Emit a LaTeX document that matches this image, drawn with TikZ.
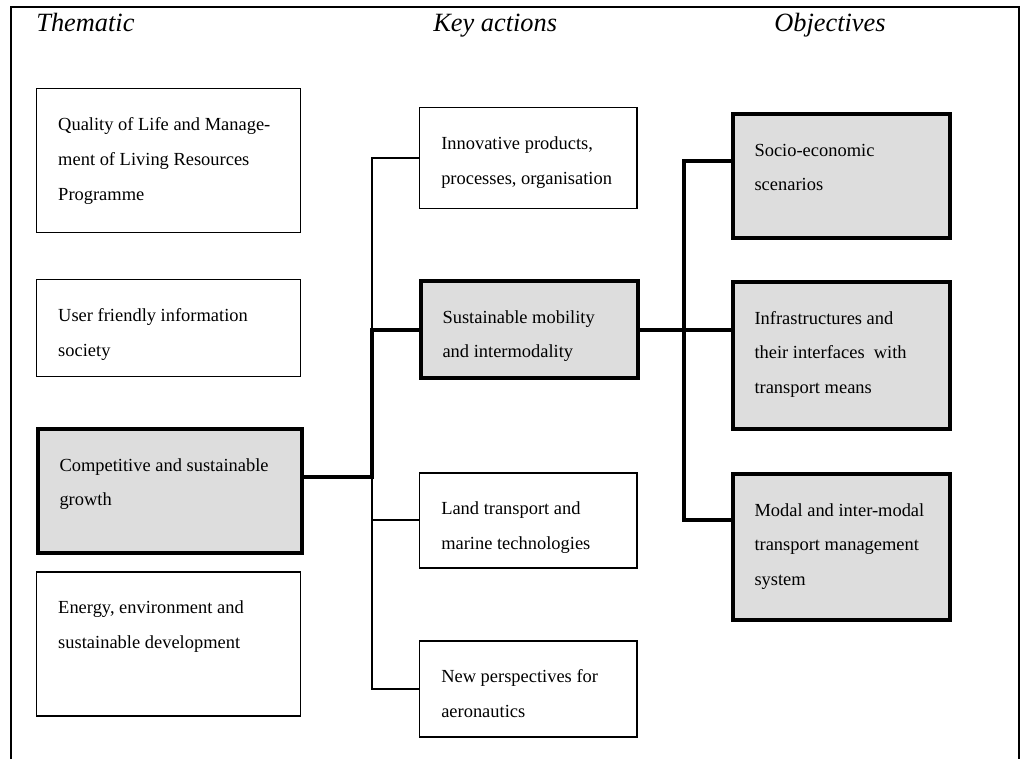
\documentclass[tikz,border=0pt]{standalone}
\usepackage{fontspec}
\setmainfont{Liberation Serif}
\usepackage{xcolor}
\usepackage{tikz}
\usetikzlibrary{positioning,calc}
\definecolor{keygray}{HTML}{DDDDDD}

% text of a box: fixed width and height, first baseline at a fixed depth
\newcommand{\cell}[3]{\parbox[c][#2][t]{#1}{\raggedright\rule{0pt}{0.84cm}#3}}

\begin{document}
\begin{tikzpicture}[
  box/.style={
    draw, line width=0.85pt, inner xsep=0.43cm, inner ysep=0pt,
    anchor=north west, font=\fontsize{10.5}{19.9}\selectfont
  },
  keybox/.style={
    box, line width=2.3pt, fill=keygray
  },
  header/.style={
    font=\fontsize{15}{18}\selectfont\itshape, anchor=base west, inner sep=0pt
  },
  link/.style={line width=1.1pt},
  keylink/.style={line width=2.3pt}
]
\useasboundingbox (0,0) rectangle (20.52,-15.18);

% Marco
\draw[line width=0.85pt] (0.22,-15.18) -- (0.22,-0.14) -- (20.38,-0.14) -- (20.38,-15.18);

% Encabezados
\node[header] (hThem) at (0.72,-0.62) {Thematic};
\node[header] (hKey) at (8.66,-0.62) {Key actions};
\node[header] (hObj) at (15.48,-0.62) {Objectives};

% Columna izquierda
\node[box] (qol) at (0.72,-1.76) {\cell{4.42cm}{2.88cm}{Quality of Life and Manage-\\ment of Living Resources\\Programme}};
\node[box] (usr) at (0.72,-5.58) {\cell{4.42cm}{1.94cm}{User friendly information\\society}};
\node[keybox] (cmp) at (0.72,-8.54) {\cell{4.42cm}{2.48cm}{Competitive and sustainable\\growth}};
\node[box] (eng) at (0.72,-11.42) {\cell{4.42cm}{2.88cm}{Energy, environment and\\sustainable development}};

% Columna central
\node[box] (inn) at (8.38,-2.14) {\cell{3.48cm}{2.02cm}{Innovative products,\\processes, organisation}};
\node[keybox] (sus) at (8.38,-5.58) {\cell{3.48cm}{1.94cm}{Sustainable mobility\\and intermodality}};
\node[box] (lnd) at (8.38,-9.44) {\cell{3.48cm}{1.9cm}{Land transport and\\marine technologies}};
\node[box] (nwp) at (8.38,-12.8) {\cell{3.48cm}{1.92cm}{New perspectives for\\aeronautics}};

% Columna derecha
\node[keybox] (soc) at (14.62,-2.24) {\cell{3.48cm}{2.48cm}{Socio-economic\\scenarios}};
\node[keybox] (inf) at (14.62,-5.6) {\cell{3.48cm}{2.94cm}{Infrastructures and\\their interfaces \ with\\transport means}};
\node[keybox] (mod) at (14.62,-9.44) {\cell{3.48cm}{2.92cm}{Modal and inter-modal\\transport management\\system}};

% Puntos de union
\coordinate (spine) at (7.44,0);
\coordinate (hub) at (7.44,-9.54);
\coordinate (jSoc) at (13.68,-3.22);
\coordinate (jMod) at (13.68,-10.4);

% Conectores finos
\draw[link] (inn.west) -- (inn.west -| spine) -- (nwp.west -| spine) -- (nwp.west);
\draw[link] (lnd.west) -- (lnd.west -| spine);

% Conectores gruesos
\draw[keylink] (cmp.east |- hub) -- (hub) -- (hub |- sus.west) -- (sus.west);
\draw[keylink] (sus.east) -- (sus.east -| inf.west);
\draw[keylink] (jSoc -| soc.west) -- (jSoc) -- (jMod) -- (jMod -| mod.west);
\end{tikzpicture}
\end{document}
